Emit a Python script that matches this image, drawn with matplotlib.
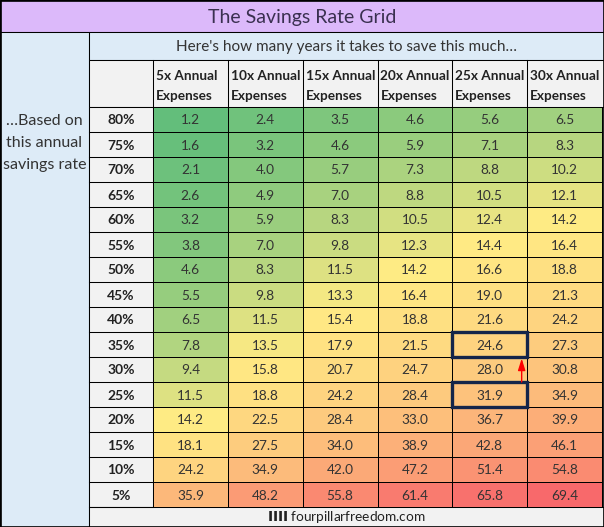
import numpy as np
import matplotlib
matplotlib.use("Agg")
import matplotlib.pyplot as plt
from matplotlib.colors import LinearSegmentedColormap, TwoSlopeNorm
from matplotlib.patches import Rectangle, FancyArrowPatch

plt.rcParams['font.family'] = ['Lato', 'DejaVu Sans']

# data
rates = ['80%', '75%', '70%', '65%', '60%', '55%', '50%', '45%',
         '40%', '35%', '30%', '25%', '20%', '15%', '10%', '5%']
targets = ['5x Annual\nExpenses', '10x Annual\nExpenses', '15x Annual\nExpenses',
           '20x Annual\nExpenses', '25x Annual\nExpenses', '30x Annual\nExpenses']
years_5x = [1.2, 1.6, 2.1, 2.6, 3.2, 3.8, 4.6, 5.5, 6.5, 7.8, 9.4, 11.5, 14.2, 18.1, 24.2, 35.9]
years_10x = [2.4, 3.2, 4.0, 4.9, 5.9, 7.0, 8.3, 9.8, 11.5, 13.5, 15.8, 18.8, 22.5, 27.5, 34.9, 48.2]
years_15x = [3.5, 4.6, 5.7, 7.0, 8.3, 9.8, 11.5, 13.3, 15.4, 17.9, 20.7, 24.2, 28.4, 34.0, 42.0, 55.8]
years_20x = [4.6, 5.9, 7.3, 8.8, 10.5, 12.3, 14.2, 16.4, 18.8, 21.5, 24.7, 28.4, 33.0, 38.9, 47.2, 61.4]
years_25x = [5.6, 7.1, 8.8, 10.5, 12.4, 14.4, 16.6, 19.0, 21.6, 24.6, 28.0, 31.9, 36.7, 42.8, 51.4, 65.8]
years_30x = [6.5, 8.3, 10.2, 12.1, 14.2, 16.4, 18.8, 21.3, 24.2, 27.3, 30.8, 34.9, 39.9, 46.1, 54.8, 69.4]
highlight = ['35%', '25%']  # rows boxed in the 25x column

grid = np.column_stack([years_5x, years_10x, years_15x, years_20x, years_25x, years_30x])

W, H = 604, 527
fig = plt.figure(figsize=(W / 100, H / 100), dpi=100)
ax = fig.add_axes([0, 0, 1, 1])
ax.set_xlim(0, W)
ax.set_ylim(H, 0)
ax.axis('off')

txt = '#333333'
lw = 0.75

# layout (pixels)
title_h = 32
left_w = 89
sub_bot = 60
head_bot = 107
label_r = 153
grid_r = 602
foot_top = 507

# backgrounds
ax.add_patch(Rectangle((0, 0), W, title_h, fc='#DCB9FA', ec='black', lw=lw))
ax.add_patch(Rectangle((0, title_h), left_w, H - title_h, fc='#DDEBF7', ec='black', lw=lw))
ax.add_patch(Rectangle((left_w, title_h), W - left_w, sub_bot - title_h, fc='#DDEBF7', ec='black', lw=lw))
ax.add_patch(Rectangle((left_w, sub_bot), W - left_w, head_bot - sub_bot, fc='#F2F2F2', ec='black', lw=lw))
ax.add_patch(Rectangle((left_w, head_bot), label_r - left_w, foot_top - head_bot, fc='#F2F2F2', ec='black', lw=lw))
ax.add_patch(Rectangle((left_w, foot_top), W - left_w, H - foot_top, fc='#F2F2F2', ec='black', lw=lw))

# heatmap, Excel style 3-colour scale (min / median / max)
cmap = LinearSegmentedColormap.from_list('rg', ['#63BE7B', '#FFEB84', '#F8696B'])
norm = TwoSlopeNorm(vmin=grid.min(), vcenter=np.percentile(grid, 50), vmax=grid.max())
xe = np.linspace(label_r, grid_r, len(targets) + 1)
ye = np.linspace(head_bot, foot_top, len(rates) + 1)
ax.pcolormesh(xe, ye, grid, cmap=cmap, norm=norm, edgecolors='black', linewidth=0.6)

xc = (xe[:-1] + xe[1:]) / 2
yc = (ye[:-1] + ye[1:]) / 2
for i, r in enumerate(rates):
    ax.text((left_w + label_r) / 2, yc[i] + 1, r, ha='center', va='center',
            fontsize=10, fontweight='bold', color='#222222')
    ax.plot([left_w, label_r], [ye[i + 1], ye[i + 1]], color='black', lw=lw)
    for j in range(len(targets)):
        ax.text(xc[j], yc[i] + 1, f'{grid[i, j]:.1f}', ha='center', va='center',
                fontsize=9.8, color=txt)

# header cells
for j, t in enumerate(targets):
    ax.plot([xe[j], xe[j]], [sub_bot, head_bot], color='black', lw=lw)
    ax.text(xe[j] + 3, (sub_bot + head_bot) / 2 + 2, t, ha='left', va='center',
            fontsize=9.8, fontweight='bold', color='#222222', linespacing=1.8)

# highlighted cells and arrow
col = 4
for r in highlight:
    i = rates.index(r)
    ax.add_patch(Rectangle((xe[col], ye[i]), xe[col + 1] - xe[col], ye[i + 1] - ye[i],
                           fill=False, ec='#14254A', lw=2.4, zorder=5))
i_top, i_bot = rates.index(highlight[0]), rates.index(highlight[1])
ax.add_patch(FancyArrowPatch((xe[col + 1] - 5.5, ye[i_bot]), (xe[col + 1] - 5.5, ye[i_top + 1] + 1.5),
                             arrowstyle='-|>,head_length=0.7,head_width=0.22', mutation_scale=10,
                             shrinkA=0, shrinkB=0, color='red', lw=1, zorder=6))

# titles
ax.text(W / 2, title_h / 2 + 1, 'The Savings Rate Grid', ha='center', va='center',
        fontsize=14, color='#3A3050')
ax.text((left_w + W) / 2, (title_h + sub_bot) / 2 + 1, "Here's how many years it takes to save this much\u2026",
        ha='center', va='center', fontsize=11, color='#333333')
ax.text(left_w / 2, 143, '\u2026Based on\nthis annual\nsavings rate', ha='center', va='center',
        fontsize=11.5, color='#333333', linespacing=1.7)
ax.text((left_w + W) / 2, (foot_top + H) / 2, r'$\bf{IIII}$ fourpillarfreedom.com', ha='center', va='center',
        fontsize=9.8, color='#222222')

ax.add_patch(Rectangle((0.5, 0.5), W - 1, H - 1, fill=False, ec='black', lw=1.2, zorder=10))

fig.savefig('out.png', dpi=100)
